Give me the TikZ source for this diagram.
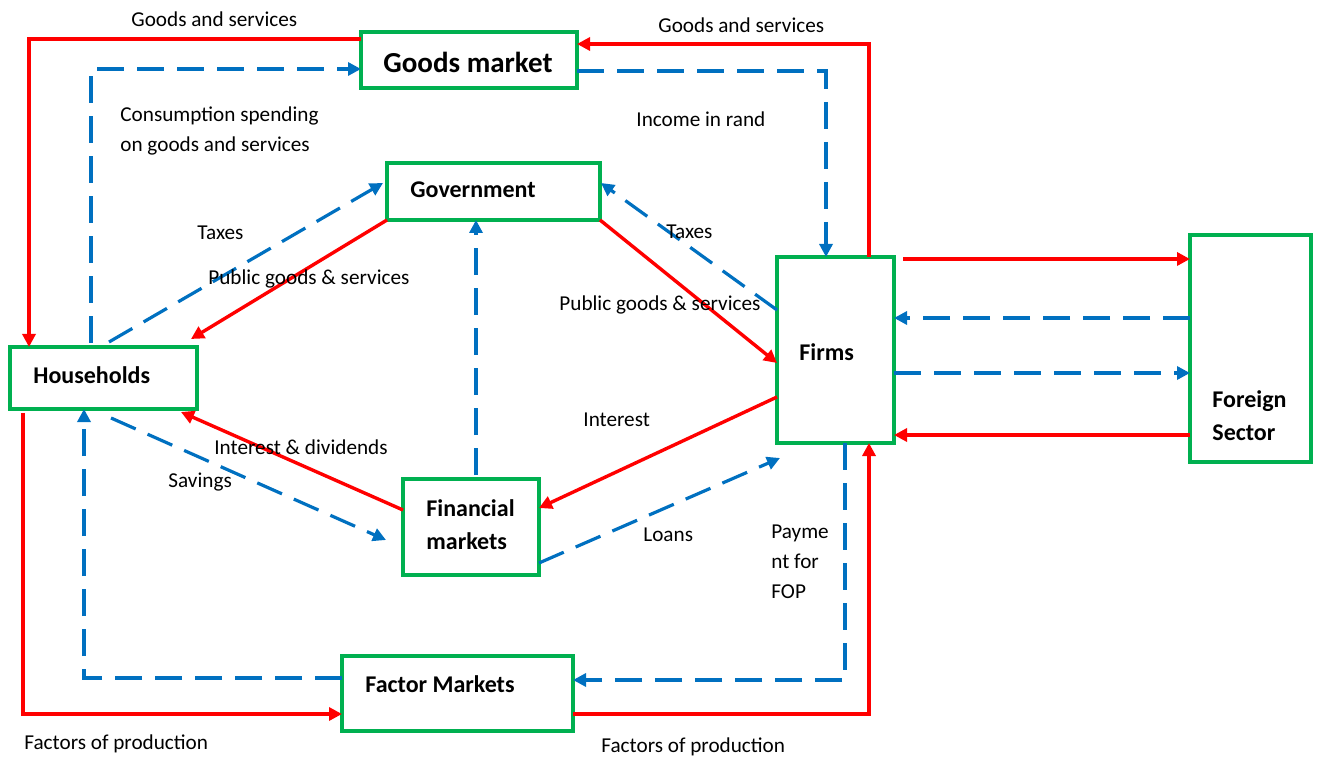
\documentclass[tikz,border=0pt]{standalone}
\usepackage{fontspec}
\setmainfont{Carlito}
\usepackage{tikz}
\usetikzlibrary{arrows.meta}

\definecolor{flowred}{HTML}{FF0000}
\definecolor{flowblue}{HTML}{0070C0}
\definecolor{boxgreen}{HTML}{00B050}

\begin{document}
\begin{tikzpicture}[x=0.5pt, y=-0.5pt,
    sector/.style={draw=boxgreen, line width=1.6pt, inner sep=0pt, outer sep=0pt},
    title/.style={anchor=west, inner sep=0pt, align=left, font=\fontsize{12}{16.5}\selectfont\bfseries},
    lbl/.style={anchor=west, inner sep=0pt, align=left, font=\fontsize{10.6}{15}\selectfont},
    real/.style={draw=flowred, line width=1.7pt, -{Triangle[length=6.5pt, width=6.5pt]}},
    money/.style={draw=flowblue, line width=1.6pt, dash pattern=on 13.5pt off 6.5pt, -{Triangle[length=6.5pt, width=6.5pt]}}
  ]
  \useasboundingbox (0,0) rectangle (1320,758);

  % sectors
  \node[sector, minimum width=108pt, minimum height=28pt] (goods) at (469,60) {};
  \node[sector, minimum width=106.5pt, minimum height=28.5pt] (govt) at (493.5,191.5) {};
  \node[sector, minimum width=93.5pt, minimum height=31pt] (house) at (103.5,378) {};
  \node[sector, minimum width=58.5pt, minimum height=93pt] (firms) at (835.5,350) {};
  \node[sector, minimum width=60.5pt, minimum height=113.5pt] (foreign) at (1250.5,348.5) {};
  \node[sector, minimum width=68pt, minimum height=48pt] (fin) at (471,527) {};
  \node[sector, minimum width=115.5pt, minimum height=37.5pt] (factor) at (457.5,693.5) {};

  \node[title, font=\fontsize{14.5}{16}\selectfont\bfseries] (goods-t) at (383,62) {Goods market};
  \node[title] (govt-t) at (410,190) {Government};
  \node[title] (house-t) at (33,375) {Households};
  \node[title] (firms-t) at (799,352) {Firms};
  \node[title] (foreign-t) at (1212,415.5) {Foreign\\Sector};
  \node[title] (fin-t) at (426,524.5) {Financial\\markets};
  \node[title] (factor-t) at (365,684) {Factor Markets};

  % real flows
  \draw[real] (goods.west |- 0,39) -| (house.north -| 29,0);
  \draw[real] (firms.north -| 869,0) |- (goods.east |- 0,44);
  \draw[real] (govt.south west) -- ([shift={(-6,-8)}]house.north east);
  \draw[real] (govt.south east) -- (firms.west |- 0,363);
  \draw[real] (firms.west |- 0,397) -- (fin.east |- 0,508);
  \draw[real] (fin.west |- 0,510) -- ([shift={(-16,3)}]house.south east);
  \draw[real] ([shift={(13,4)}]house.south west) |- (factor.west |- 0,714);
  \draw[real] (factor.east |- 0,714) -| (firms.south -| 869,0);
  \draw[real] ([shift={(9,2)}]firms.north east) -- (foreign.west |- 0,259);
  \draw[real] (foreign.west |- 0,435) -- (firms.east |- 0,435);

  % money flows
  \draw[money] ([shift={(-12.5,-4)}]house.north) |- (goods.west |- 0,69);
  \draw[money] (goods.east |- 0,71) -| (firms.north -| 826,0);
  \draw[money] ([shift={(-88,-5)}]house.north east) -- ([shift={(-4,-8.5)}]govt.west);
  \draw[money] (firms.west |- 0,310) -- ([shift={(1,-8.5)}]govt.east);
  \draw[money] ([shift={(5,-4)}]fin.north) -- (govt.south -| 476,0);
  \draw[money] ([shift={(-86,9)}]house.south east) -- ([shift={(-17,13)}]fin.west);
  \draw[money] (fin.east |- 0,563) -- ([shift={(3,15)}]firms.south west);
  \draw[money] (firms.south -| 845,0) |- (factor.east |- 0,680);
  \draw[money] (factor.west |- 0,678) -| (house.south -| 84,0);
  \draw[money] (foreign.west |- 0,318) -- (firms.east |- 0,318);
  \draw[money] (firms.east |- 0,373) -- (foreign.west |- 0,373);

  % labels
  \node[lbl] (gs-left) at (131,19) {Goods and services};
  \node[lbl] (gs-right) at (658,25) {Goods and services};
  \node[lbl] (consume) at (120,131) {Consumption spending\\on goods and services};
  \node[lbl] (income) at (636,119) {Income in rand};
  \node[lbl] (tax-h) at (197,233) {Taxes};
  \node[lbl] (pub-h) at (208,279) {Public goods \& services};
  \node[lbl] (tax-f) at (666,232) {Taxes};
  \node[lbl] (pub-f) at (559,305) {Public goods \& services};
  \node[lbl] (interest) at (583,420) {Interest};
  \node[lbl] (intdiv) at (214,447) {Interest \& dividends};
  \node[lbl] (savings) at (168,482) {Savings};
  \node[lbl] (loans) at (643,535) {Loans};
  \node[lbl] (payfop) at (771,562) {Payme\\nt for\\FOP};
  \node[lbl] (fop-left) at (24,744) {Factors of production};
  \node[lbl] (fop-right) at (601,747) {Factors of production};
\end{tikzpicture}
\end{document}
